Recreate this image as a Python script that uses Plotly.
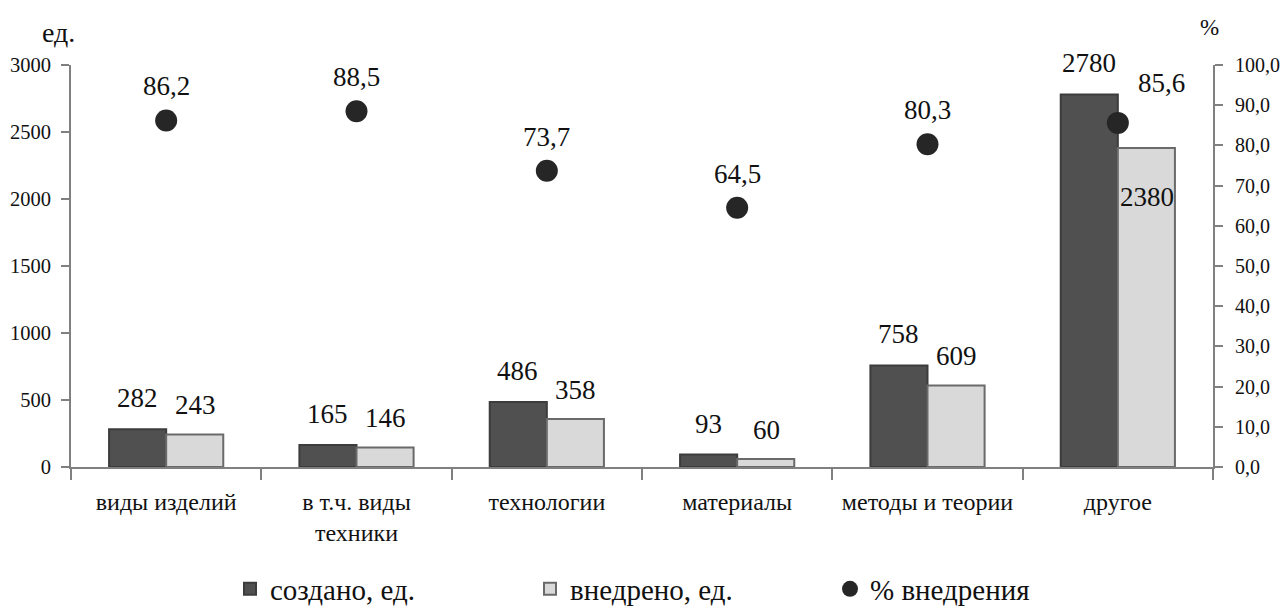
import plotly.graph_objects as go

# Categories and series
categories = ["виды изделий", "в т.ч. виды<br>техники", "технологии",
              "материалы", "методы и теории", "другое"]
created = [282, 165, 486, 93, 758, 2780]
implemented = [243, 146, 358, 60, 609, 2380]
share_pct = [86.2, 88.5, 73.7, 64.5, 80.3, 85.6]

left_ticks = [0, 500, 1000, 1500, 2000, 2500, 3000]
right_ticks = [0, 10, 20, 30, 40, 50, 60, 70, 80, 90, 100]

SERIF = "Liberation Serif, Times New Roman, serif"
AXIS_GRAY = "#808080"


def fmt_comma(v):
    return f"{v:.1f}".replace(".", ",")


fig = go.Figure()

fig.add_trace(go.Bar(
    x=categories, y=created, name="создано, ед.",
    marker=dict(color="#505050", line=dict(color="#3c3c3c", width=2)),
))
fig.add_trace(go.Bar(
    x=categories, y=implemented, name="внедрено, ед.",
    marker=dict(color="#d9d9d9", line=dict(color="#6a6a6a", width=2)),
))
fig.add_trace(go.Scatter(
    x=categories, y=share_pct, name="% внедрения", yaxis="y2",
    mode="markers",
    marker=dict(color="#262626", size=22, line=dict(width=0)),
))

annotations = []
# value labels above the bars
for cat, v in zip(categories, created):
    annotations.append(dict(x=cat, y=v, xref="x", yref="y", text=str(v),
                            showarrow=False, xshift=-29, yshift=31,
                            yanchor="middle",
                            font=dict(family=SERIF, size=27, color="#111")))
for cat, v in zip(categories, implemented):
    # the tallest bar carries its label inside, below the top edge
    shift = -49 if v > 2000 else 29
    annotations.append(dict(x=cat, y=v, xref="x", yref="y", text=str(v),
                            showarrow=False, xshift=29, yshift=shift,
                            yanchor="middle",
                            font=dict(family=SERIF, size=27, color="#111")))
# percentage labels above the markers
for i, (cat, p) in enumerate(zip(categories, share_pct)):
    last = i == len(categories) - 1
    annotations.append(dict(x=cat, y=p, xref="x", yref="y2", text=fmt_comma(p),
                            showarrow=False, xshift=44 if last else 0,
                            yshift=40 if last else 34, yanchor="middle",
                            font=dict(family=SERIF, size=27, color="#111")))
# axis unit captions
annotations.append(dict(x=0.0, y=1.0, xref="paper", yref="paper", text="ед.",
                        showarrow=False, xshift=-13, yshift=33,
                        xanchor="center", yanchor="middle",
                        font=dict(family=SERIF, size=28, color="#111")))
annotations.append(dict(x=1.0, y=1.0, xref="paper", yref="paper", text="%",
                        showarrow=False, xshift=-4, yshift=38, xanchor="center",
                        yanchor="middle",
                        font=dict(family=SERIF, size=23, color="#111")))

fig.update_layout(
    width=1281, height=609,
    margin=dict(l=71, r=68, t=65, b=142, autoexpand=False),
    paper_bgcolor="white", plot_bgcolor="white",
    font=dict(family=SERIF, color="#111"),
    barmode="group", bargap=0.4, bargroupgap=0,
    showlegend=True,
    legend=dict(orientation="h", xref="container", yref="container",
                x=230 / 1281, y=1 - 589 / 609, xanchor="left", yanchor="middle",
                entrywidthmode="pixels", entrywidth=255,
                font=dict(family=SERIF, size=29, color="#111"),
                bgcolor="rgba(0,0,0,0)"),
    xaxis=dict(type="category", tickson="boundaries", ticks="outside",
               ticklen=11, tickwidth=1.5, tickcolor=AXIS_GRAY, automargin=False,
               showline=True, linecolor=AXIS_GRAY, linewidth=2,
               showgrid=False, zeroline=False, ticklabelstandoff=12,
               tickfont=dict(family=SERIF, size=24, color="#111")),
    xaxis2=dict(overlaying="x", anchor="y", side="bottom", range=[-0.5, 5.5],
                tickvals=[0.5, 1.5, 2.5, 3.5, 4.5], ticks="inside", ticklen=9,
                tickwidth=1.5, tickcolor=AXIS_GRAY, showticklabels=False,
                showline=False, showgrid=False, zeroline=False, automargin=False),
    yaxis=dict(range=[0, 3000], tickvals=left_ticks, ticks="outside", ticklen=8,
               tickwidth=1.5, tickcolor=AXIS_GRAY, showline=True, automargin=False,
               linecolor=AXIS_GRAY, linewidth=2, showgrid=False, zeroline=False,
               ticklabelstandoff=6,
               tickfont=dict(family=SERIF, size=20.5, color="#111")),
    yaxis3=dict(overlaying="y", anchor="x", side="left", range=[0, 3000],
                tickvals=left_ticks, ticks="inside", ticklen=8, tickwidth=1.5,
                tickcolor=AXIS_GRAY, showticklabels=False, showline=False,
                showgrid=False, zeroline=False, automargin=False),
    yaxis2=dict(overlaying="y", side="right", anchor="x", range=[0, 100],
                tickvals=right_ticks, ticktext=[fmt_comma(v) for v in right_ticks],
                ticks="outside", ticklen=8, tickwidth=1.5, tickcolor=AXIS_GRAY,
                showline=True, linecolor=AXIS_GRAY, linewidth=2, showgrid=False,
                zeroline=False, ticklabelstandoff=8, automargin=False,
                tickfont=dict(family=SERIF, size=20, color="#111")),
    yaxis4=dict(overlaying="y", side="right", anchor="x", range=[0, 100],
                tickvals=right_ticks, ticks="inside", ticklen=8, tickwidth=1.5,
                tickcolor=AXIS_GRAY, showticklabels=False, showline=False,
                showgrid=False, zeroline=False, automargin=False),
    annotations=annotations,
)

fig.write_html("out.html")
